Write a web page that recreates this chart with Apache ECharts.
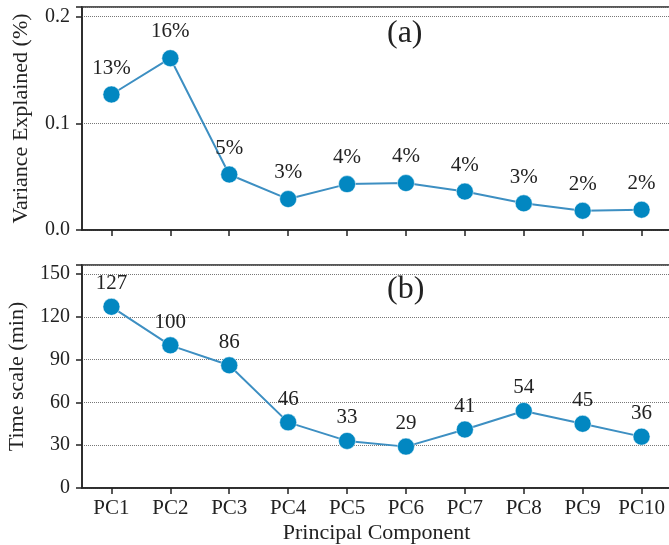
<!DOCTYPE html>
<html>
<head>
<meta charset="utf-8">
<script src="https://cdn.jsdelivr.net/npm/echarts@6/dist/echarts.min.js"></script>
<style>html,body{margin:0;padding:0;background:#fff;}#c{width:669px;height:545px;}</style>
</head>
<body>
<div id="c"></div>
<script>
const categories = ['PC1','PC2','PC3','PC4','PC5','PC6','PC7','PC8','PC9','PC10'];
const varianceExplained = [0.127, 0.161, 0.052, 0.029, 0.043, 0.044, 0.036, 0.025, 0.018, 0.019];
const varianceLabels = ['13%','16%','5%','3%','4%','4%','4%','3%','2%','2%'];
const timeScale = [127, 100, 86, 46, 33, 29, 41, 54, 45, 36];
const timeLabels = ['127','100','86','46','33','29','41','54','45','36'];
const varianceTicks = [0.0, 0.1, 0.2];
const timeTicks = [0, 30, 60, 90, 120, 150];

const FONT = 'Liberation Serif';
const chart = echarts.init(document.getElementById('c'), null, {renderer: 'canvas'});
const axisLine = {show: true, lineStyle: {color: '#222', width: 1.5}};
const axisTick = {show: true, length: 6, lineStyle: {color: '#222', width: 1.5}, inside: false};
const splitLine = {show: true, lineStyle: {type: 'dotted', color: '#777', width: 1}};
const lineColor = '#3d8fc2';
const markerColor = '#0287c1';

function seriesFor(idx, data, labels, dist) {
  return {
    type: 'line', xAxisIndex: idx, yAxisIndex: idx,
    data: data,
    symbol: 'circle', symbolSize: 17,
    lineStyle: {color: lineColor, width: 2},
    itemStyle: {color: markerColor, borderColor: '#fff', borderWidth: 0.5},
    label: {show: true, position: 'top', distance: dist, fontFamily: FONT, fontSize: 21, color: '#222',
      formatter: p => labels[p.dataIndex]},
    emphasis: {disabled: true},
    animation: false,
    z: 5
  };
}

chart.setOption({
  animation: false,
  grid: [
    {left: 82, top: 7, width: 589, height: 223, show: true, borderColor: '#222', borderWidth: 1.5,
     containLabel: false, outerBoundsMode: 'none'},
    {left: 82, top: 265, width: 589, height: 223, show: true, borderColor: '#222', borderWidth: 1.5,
     containLabel: false, outerBoundsMode: 'none'}
  ],
  xAxis: [
    {type: 'category', gridIndex: 0, data: categories, boundaryGap: true, axisLine, 
     axisTick: Object.assign({alignWithLabel: true, interval: 0}, axisTick), axisLabel: {show: false}},
    {type: 'category', gridIndex: 1, data: categories, boundaryGap: true, axisLine,
     axisTick: Object.assign({alignWithLabel: true, interval: 0}, axisTick),
     axisLabel: {show: true, interval: 0, fontFamily: FONT, fontSize: 21, color: '#222', margin: 10},
     name: 'Principal Component', nameLocation: 'middle', nameGap: 34,
     nameTextStyle: {fontFamily: FONT, fontSize: 22, color: '#222'}}
  ],
  yAxis: [
    {type: 'value', gridIndex: 0, min: 0, max: 0.209, interval: 0.1, axisLine, axisTick, splitLine,
     axisLabel: {fontFamily: FONT, fontSize: 20, color: '#222', margin: 12,
       customValues: varianceTicks, formatter: v => v.toFixed(1)},
     name: 'Variance Explained (%)', nameLocation: 'middle', nameGap: 50,
     nameTextStyle: {fontFamily: FONT, fontSize: 22, color: '#222'}},
    {type: 'value', gridIndex: 1, min: 0, max: 156.3, interval: 30, axisLine, axisTick, splitLine,
     axisLabel: {fontFamily: FONT, fontSize: 20, color: '#222', margin: 12,
       customValues: timeTicks, formatter: v => String(Math.round(v))},
     name: 'Time scale (min)', nameLocation: 'middle', nameGap: 54,
     nameTextStyle: {fontFamily: FONT, fontSize: 22, color: '#222'}}
  ],
  graphic: [
    {type: 'text', left: 387, top: 18, style: {text: '(a)', fontFamily: FONT, fontSize: 32, fill: '#222'}},
    {type: 'text', left: 387, top: 274, style: {text: '(b)', fontFamily: FONT, fontSize: 32, fill: '#222'}}
  ],
  series: [
    seriesFor(0, varianceExplained, varianceLabels, 7),
    seriesFor(1, timeScale, timeLabels, 4)
  ]
});
</script>
</body>
</html>
